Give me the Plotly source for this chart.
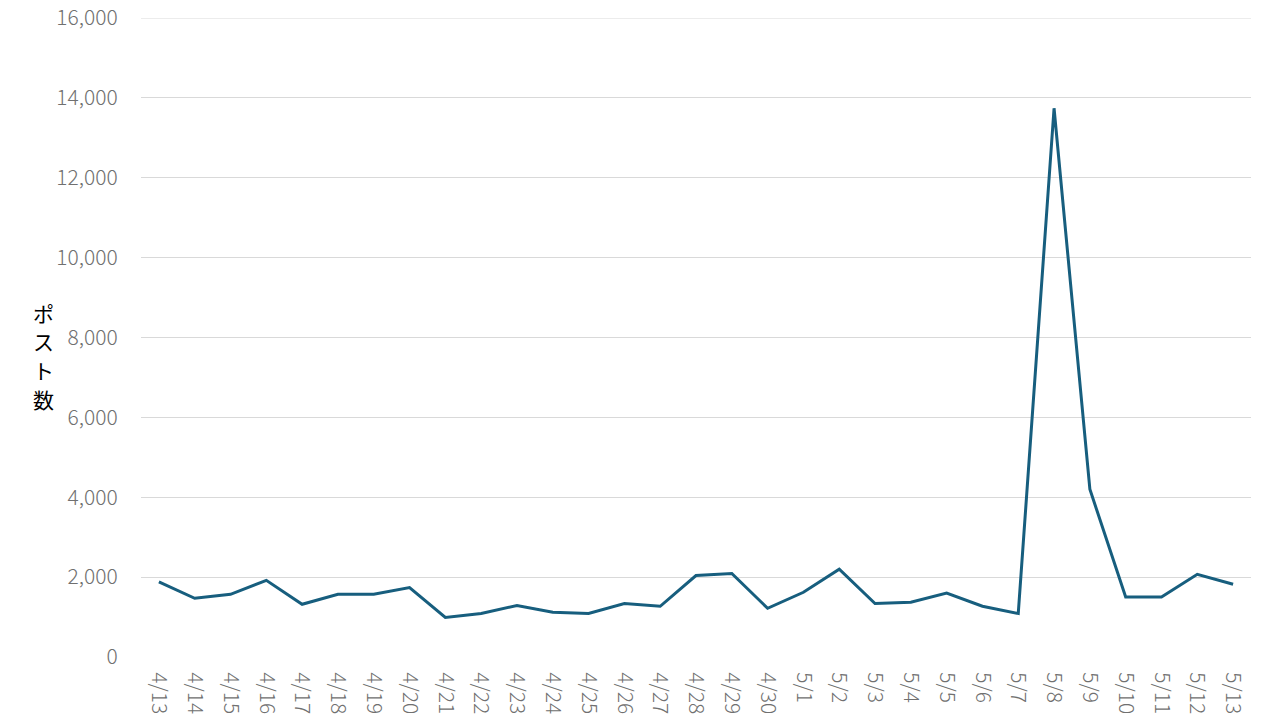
import plotly.graph_objects as go

dates = ["4/13","4/14","4/15","4/16","4/17","4/18","4/19","4/20","4/21","4/22",
         "4/23","4/24","4/25","4/26","4/27","4/28","4/29","4/30","5/1","5/2",
         "5/3","5/4","5/5","5/6","5/7","5/8","5/9","5/10","5/11","5/12","5/13"]
posts = [1880, 1470, 1570, 1920, 1320, 1570, 1570, 1740, 990, 1090,
         1290, 1120, 1090, 1340, 1270, 2040, 2090, 1220, 1620, 2200,
         1340, 1370, 1600, 1270, 1090, 13740, 4200, 1500, 1500, 2070, 1820]
y_title = "ポスト数"
y_max = 16000

font_family = "Noto Sans CJK JP, Noto Sans, sans-serif"
tick_color = "#707070"

fig = go.Figure()
fig.add_trace(go.Scatter(x=dates, y=posts, mode="lines",
                         line=dict(color="#175E7E", width=3)))

fig.update_layout(
    width=1280, height=720,
    margin=dict(l=141, r=29, t=18, b=63),
    paper_bgcolor="white", plot_bgcolor="white",
    showlegend=False,
    font=dict(family=font_family, color=tick_color, size=21),
    xaxis=dict(type="category", range=[-0.5, len(dates) - 0.5], tickangle=90,
               showgrid=False, showline=False, zeroline=False,
               ticks="outside", ticklen=10, tickcolor="rgba(0,0,0,0)",
               tickfont=dict(size=21, color=tick_color, weight=300),
               automargin=False),
    yaxis=dict(range=[0, y_max], tick0=0, dtick=2000, tickformat=",",
               showgrid=True, gridcolor="#D9D9D9", gridwidth=1, zeroline=False,
               showline=False, ticks="outside", ticklen=18, tickcolor="rgba(0,0,0,0)",
               tickfont=dict(size=21, color=tick_color, weight=300),
               automargin=False),
)

# top gridline (Plotly omits the one on the plot edge)
fig.add_shape(type="line", xref="paper", yref="y", x0=0, x1=1, y0=y_max, y1=y_max,
              line=dict(color="#D9D9D9", width=1), layer="below")

# vertical stacked title characters (page-pixel centres 313, 341, 370, 399)
char_px = [313, 341, 370, 399]
for ch, py in zip(y_title, char_px):
    fig.add_annotation(text=ch, xref="paper", yref="paper",
                       x=(43 - 141) / 1110, y=(657 - py) / 639,
                       xanchor="center", yanchor="middle", showarrow=False,
                       font=dict(size=21, color="#000000", family=font_family))

fig.write_html("out.html", config={"displayModeBar": False},
               post_script="document.body.style.margin='0';document.body.style.overflow='hidden';")
